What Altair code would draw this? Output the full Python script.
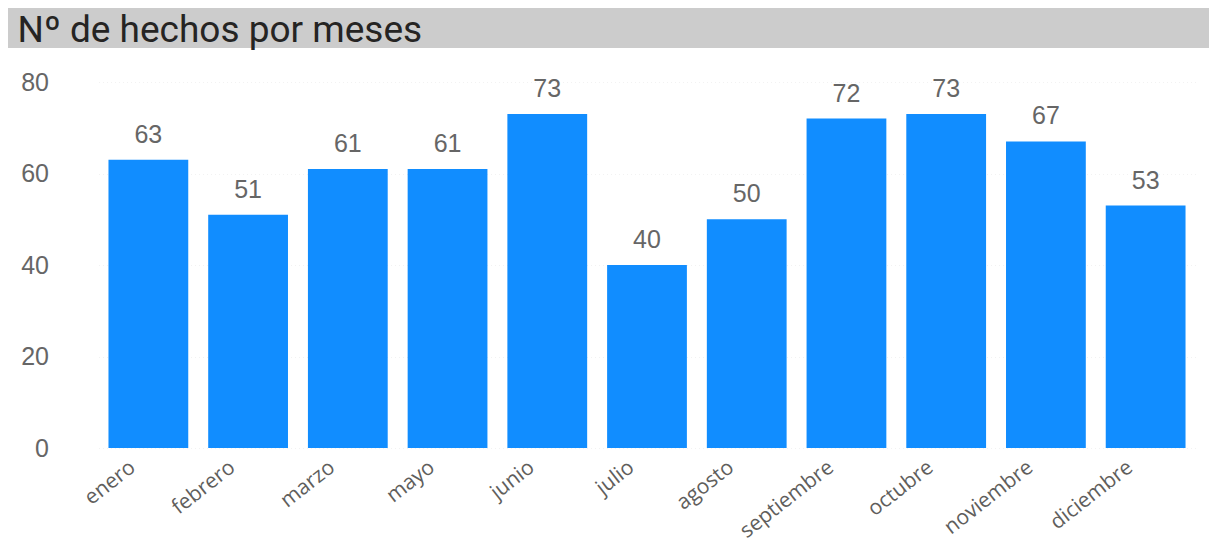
import altair as alt
import pandas as pd

titulo = "Nº de hechos por meses"
meses = ["enero", "febrero", "marzo", "mayo", "junio", "julio", "agosto",
         "septiembre", "octubre", "noviembre", "diciembre"]
hechos = [63, 51, 61, 61, 73, 40, 50, 72, 73, 67, 53]
y_ticks = [0, 20, 40, 60, 80]

df = pd.DataFrame({"mes": meses, "hechos": hechos})
df_t = pd.DataFrame({"t": [titulo]})

W, H = 1097, 366

x = alt.X("mes:N", sort=meses, title=None,
          scale=alt.Scale(paddingInner=0.2, paddingOuter=0.1),
          axis=alt.Axis(labelAngle=-38, labelAlign="right", labelBaseline="top",
                        labelFont="Open Sans", labelFontSize=21, labelColor="#605E5C",
                        labelPadding=8, labelOffset=-22, domain=False, ticks=False,
                        labelOverlap=False))
y = alt.Y("hechos:Q", title=None,
          scale=alt.Scale(domain=[0, 80], nice=False),
          axis=alt.Axis(values=y_ticks, labelFont="Liberation Sans", labelFontSize=25,
                        labelColor="#666666", labelPadding=50, domain=False, ticks=False,
                        grid=True, gridColor="#f2f2f2", gridDash=[1, 3], gridWidth=1))

bars = alt.Chart(df).mark_bar(color="#118DFF").encode(x=x, y=y)
labels = alt.Chart(df).mark_text(baseline="alphabetic", dy=-17, font="Liberation Sans",
                                 fontSize=25, color="#666666").encode(
    x=alt.X("mes:N", sort=meses), y="hechos:Q", text="hechos:Q")

band = alt.Chart(df_t).mark_rect(color="#CCCCCC").encode(
    x=alt.value(-91.5), x2=alt.value(W + 22), y=alt.value(-75), y2=alt.value(-34))
title = alt.Chart(df_t).mark_text(align="left", baseline="alphabetic", font="Roboto",
                                  fontSize=37, color="#252423").encode(
    x=alt.value(-81), y=alt.value(-40), text="t:N")

chart = alt.layer(band, title, bars, labels).properties(
    width=W, height=H,
    autosize=alt.AutoSizeParams(type="none"),
    padding={"left": 90.5, "top": 74, "right": 13, "bottom": 100},
    background="white",
).configure_view(stroke=None)

chart.save("out.html", embed_options={"renderer": "svg", "actions": False})
